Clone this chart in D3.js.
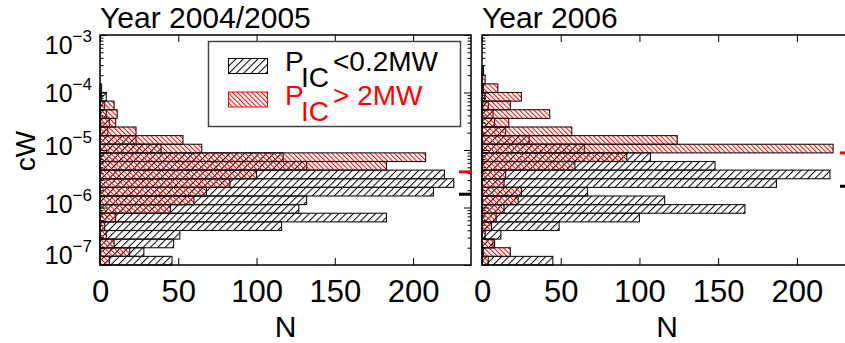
<!DOCTYPE html>
<html>
<head>
<meta charset="utf-8">
<script src="https://cdn.jsdelivr.net/npm/d3@7"></script>
<style>
  html, body { margin: 0; padding: 0; background: #fff; }
  svg { display: block; font-family: "Liberation Sans", Arial, Helvetica, sans-serif; }
</style>
</head>
<body>
<div id="chart"></div>
<script>
// bins in log10(cW), width 0.15 decade starting at 1e-7
const binStart = -7, binWidth = 0.15;
const yTicks = [1e-7, 1e-6, 1e-5, 1e-4, 1e-3];
const xTicks = [0, 50, 100, 150, 200];

// Year 2004/2005
const low2004 = [46, 28, 47, 51, 116, 183, 127, 132, 213, 226, 220, 132, 117, 39, 23, 5, 6, 4, 3, 4, 1, 0, 0];
const high2004 = [6, 19, 9, 4, 3, 10, 45, 60, 68, 83, 100, 183, 208, 65, 53, 23, 10, 11, 9, 1, 0, 0, 0];
// Year 2006
const low2006 = [45, 1, 7, 12, 49, 100, 167, 116, 67, 187, 221, 148, 107, 65, 30, 15, 8, 7, 4, 2, 1, 0, 0];
const high2006 = [4, 18, 8, 2, 6, 9, 14, 23, 25, 14, 15, 59, 92, 223, 124, 57, 17, 43, 18, 25, 10, 2, 1];
// markers on the right axis [low, high]
const marks2004 = [1.70e-6, 4.17e-6];
const marks2006 = [2.34e-6, 8.9e-6];

const legendLabels = ['<0.2MW', '> 2MW'];

const W = 845, H = 343;
const yTop = 35, yBottom = 265;

const svg = d3.select('#chart').append('svg')
  .attr('width', W).attr('height', H);

const defs = svg.append('defs');
function hatch(id, color, angle, gap) {
  const p = defs.append('pattern')
    .attr('id', id)
    .attr('patternUnits', 'userSpaceOnUse')
    .attr('width', gap).attr('height', gap)
    .attr('patternTransform', `rotate(${angle})`);
  p.append('line')
    .attr('x1', 0.5).attr('y1', 0).attr('x2', 0.5).attr('y2', gap)
    .attr('stroke', color).attr('stroke-width', 1);
}
hatch('hLow', '#000', 45, 5.2);
hatch('hHigh', '#ff0000', -45, 3.4);

const y = d3.scaleLog().domain([1e-7, 1e-3]).range([yBottom, yTop]);

const minorTicks = [];
for (let k = -7; k < -3; k++) for (let m = 2; m <= 9; m++) minorTicks.push(m * Math.pow(10, k));

const panels = [
  { title: 'Year 2004/2005', x0: 100, x1: 471, xmax: 237, low: low2004, high: high2004, marks: marks2004, labels: true },
  { title: 'Year 2006', x0: 482, x1: 852, xmax: 235, low: low2006, high: high2006, marks: marks2006, labels: false }
];

const labelShift = [-10, -3, -4, 1, 10];

panels.forEach(p => {
  const x = d3.scaleLinear().domain([0, p.xmax]).range([p.x0, p.x1]);
  const g = svg.append('g');

  const bars = (vals, fill) => {
    g.append('g').selectAll('rect')
      .data(vals.map((v, i) => ({ v, i })).filter(d => d.v > 0))
      .join('rect')
      .attr('x', x(0))
      .attr('y', d => y(Math.pow(10, binStart + binWidth * (d.i + 1))))
      .attr('width', d => x(d.v) - x(0))
      .attr('height', d => y(Math.pow(10, binStart + binWidth * d.i)) - y(Math.pow(10, binStart + binWidth * (d.i + 1))))
      .attr('fill', fill)
      .attr('stroke', '#111')
      .attr('stroke-width', 1.1);
  };
  bars(p.low, 'url(#hLow)');
  bars(p.high, 'url(#hHigh)');

  // axes, ticks pointing inward
  const ax = (axis, tr) => {
    const a = g.append('g').attr('transform', tr).call(axis);
    a.select('.domain').remove();
    a.selectAll('line').attr('stroke', '#000').attr('stroke-width', 1);
    return a;
  };
  const xb = ax(d3.axisBottom(x).tickValues(xTicks).tickSizeInner(-7).tickSizeOuter(0).tickPadding(15), `translate(0,${yBottom})`);
  xb.selectAll('text').attr('font-size', 31).attr('fill', '#000')
    .style('font-family', '"Liberation Sans", Arial, sans-serif');
  ax(d3.axisTop(x).tickValues(xTicks).tickSizeInner(-7).tickSizeOuter(0).tickFormat(''), `translate(0,${yTop})`);
  ax(d3.axisLeft(y).tickValues(yTicks).tickSizeInner(-7).tickSizeOuter(0).tickFormat(''), `translate(${p.x0},0)`);
  ax(d3.axisLeft(y).tickValues(minorTicks).tickSizeInner(-3.5).tickSizeOuter(0).tickFormat(''), `translate(${p.x0},0)`);
  ax(d3.axisRight(y).tickValues(yTicks).tickSizeInner(-7).tickSizeOuter(0).tickFormat(''), `translate(${p.x1},0)`);
  ax(d3.axisRight(y).tickValues(minorTicks).tickSizeInner(-3.5).tickSizeOuter(0).tickFormat(''), `translate(${p.x1},0)`);

  g.append('rect')
    .attr('x', p.x0).attr('y', yTop)
    .attr('width', p.x1 - p.x0).attr('height', yBottom - yTop)
    .attr('fill', 'none').attr('stroke', '#000').attr('stroke-width', 1.5);

  // markers
  g.selectAll('.mark').data(p.marks).join('line')
    .attr('x1', p.x1 - 12).attr('x2', p.x1)
    .attr('y1', d => y(d)).attr('y2', d => y(d))
    .attr('stroke', (d, i) => i === 0 ? '#000' : '#ff0000')
    .attr('stroke-width', 3);

  svg.append('text')
    .attr('x', p.x0).attr('y', 28)
    .attr('font-size', 30).attr('fill', '#000')
    .text(p.title);

  svg.append('text')
    .attr('x', (p.x0 + p.x1) / 2).attr('y', 337)
    .attr('text-anchor', 'middle')
    .attr('font-size', 30).attr('fill', '#000')
    .text('N');

  if (p.labels) {
    yTicks.forEach((t, i) => {
      const ty = y(t) + labelShift[i] + 8.5;
      const txt = svg.append('text')
        .attr('x', 92).attr('y', ty)
        .attr('text-anchor', 'end').attr('fill', '#000');
      txt.append('tspan').attr('font-size', 25).text('10');
      txt.append('tspan').attr('font-size', 17).attr('dy', -12).text('\u2212' + Math.round(-Math.log10(t)));
    });
  }
});

// y title
svg.append('text')
  .attr('transform', 'translate(35,151) rotate(-90)')
  .attr('text-anchor', 'middle')
  .attr('font-size', 28).attr('fill', '#000')
  .text('cW');

// legend
const lg = svg.append('g');
lg.append('rect')
  .attr('x', 208.5).attr('y', 41.5).attr('width', 252).attr('height', 85)
  .attr('fill', '#fff').attr('stroke', '#444').attr('stroke-width', 1.5);
[{ fill: 'url(#hLow)', color: '#000' }, { fill: 'url(#hHigh)', color: '#ff0000' }].forEach((s, i) => {
  const by = 58.5 + i * 33.5;
  lg.append('rect')
    .attr('x', 228.5).attr('y', by).attr('width', 39).attr('height', 15)
    .attr('fill', s.fill).attr('stroke', s.color).attr('stroke-width', 1);
  const base = 71 + i * 34;
  lg.append('text').attr('x', 285).attr('y', base)
    .attr('font-size', 28).attr('fill', s.color).text('P');
  lg.append('text').attr('x', 301).attr('y', base + 16)
    .attr('font-size', 28).attr('fill', s.color).text('IC');
  lg.append('text').attr('x', 333).attr('y', base)
    .attr('font-size', 28).attr('fill', s.color).text(legendLabels[i]);
});
</script>
</body>
</html>
